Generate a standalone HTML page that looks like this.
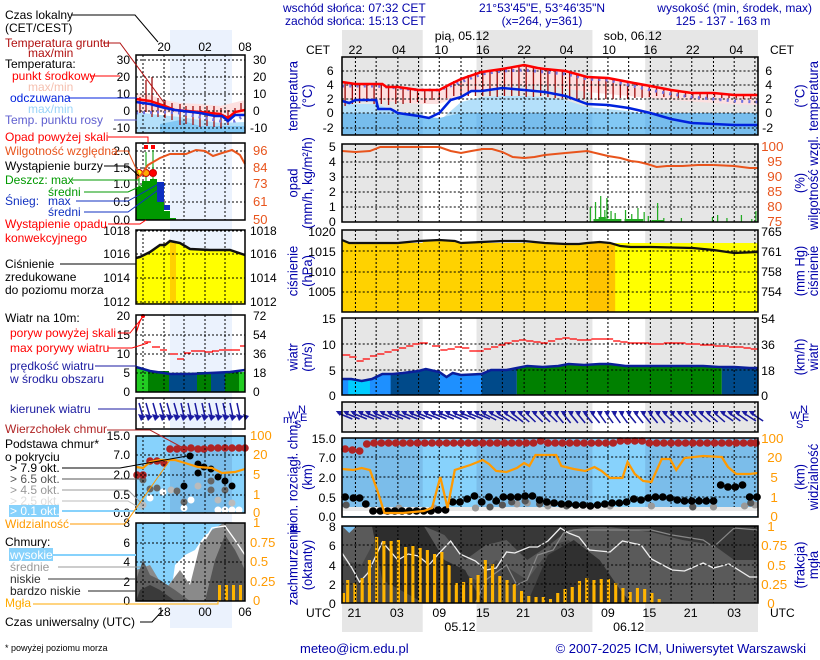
<!DOCTYPE html>
<html><head><meta charset="utf-8"><style>
html,body{margin:0;padding:0;background:#fff}
svg{display:block;font-family:"Liberation Sans",sans-serif;font-size:12px}
</style></head><body>
<svg width="820" height="660" viewBox="0 0 820 660" xmlns="http://www.w3.org/2000/svg">
<rect x="170" y="30" width="62" height="598" fill="#ebf2fd"/>

<g fill="#0000aa">
<text x="283" y="12">wschód słońca: 07:32 CET</text>
<text x="285" y="25">zachód słońca: 15:13 CET</text>
<text x="542" y="12" text-anchor="middle">21°53'45"E, 53°46'35"N</text>
<text x="542" y="25" text-anchor="middle">(x=264,  y=361)</text>
<text x="812" y="12" text-anchor="end">wysokość (min, środek, max)</text>
<text x="723" y="25" text-anchor="middle">125 - 137 - 163 m</text>
</g>
<text x="306" y="54">CET</text><text x="770" y="54">CET</text>
<text x="306" y="617">UTC</text><text x="770" y="617">UTC</text>
<g fill="#0000aa" font-size="11"><text x="283" y="423">m.</text><text x="288" y="419">W</text><text x="298" y="413">N</text><text x="294" y="428">S</text><text x="300" y="421">E</text>
<text x="790" y="419">W</text><text x="800" y="413">N</text><text x="796" y="428">S</text><text x="802" y="421">E</text></g>

<g transform="matrix(1.0348,0,0,1,-10.87,0)">
<rect x="341" y="30" width="78" height="27" fill="#e6e6e6"/>
<rect x="471" y="30" width="112" height="27" fill="#e6e6e6"/>
<rect x="634" y="30" width="109" height="27" fill="#e6e6e6"/>
<rect x="341" y="604" width="78" height="28" fill="#e6e6e6"/>
<rect x="471" y="604" width="112" height="28" fill="#e6e6e6"/>
<rect x="634" y="604" width="109" height="28" fill="#e6e6e6"/>
<g fill="#000">
<text x="457" y="40" text-anchor="middle">pią, 05.12</text>
<text x="622" y="40" text-anchor="middle">sob, 06.12</text>
<g text-anchor="middle">
<text x="354" y="54">22</text><text x="396" y="54">04</text><text x="437" y="54">10</text><text x="477" y="54">16</text><text x="517" y="54">22</text><text x="558" y="54">04</text><text x="599" y="54">10</text><text x="639" y="54">16</text><text x="680" y="54">22</text><text x="722" y="54">04</text>
<text x="353" y="617">21</text><text x="394" y="617">03</text><text x="435" y="617">09</text><text x="477" y="617">15</text><text x="516" y="617">21</text><text x="559" y="617">03</text><text x="598" y="617">09</text><text x="638" y="617">15</text><text x="678" y="617">21</text><text x="720" y="617">03</text>
<text x="455" y="631">05.12</text><text x="618" y="631">06.12</text>
</g>
</g>

<!-- ============ MAIN TEMP PANEL ============ -->
<rect x="341" y="57" width="402" height="78" fill="#e6e6e6"/>
<rect x="419" y="57" width="52" height="78" fill="#fff"/>
<rect x="583" y="57" width="51" height="78" fill="#fff"/>
<polygon fill="#fde0e0" points="341,82 354,84 374,84 395,87 415,90 435,90 456,79 476,72 496,69 517,65 537,69 557,71 578,77 598,78 618,82 639,86 659,90 679,93 700,93 720,95 743,95 743,105 700,103 659,100 618,96 578,92 537,85 496,86 456,95 435,104 415,104 374,100 341,98"/>
<polygon fill="#b4e0fa" points="341,104 354,104 374,104 395,112 415,119 435,121 456,102 476,97 496,96 517,96 537,97 557,100 578,107 598,109 618,111 639,115 659,121 679,125 700,127 720,127 743,127 743,135 341,135"/>
<polygon fill="#82c8f4" points="341,113 395,115 435,118 456,113 743,113 743,135 341,135"/>
<rect x="341" y="113" width="78" height="22" fill="#6fb6e8" opacity="0.6"/>
<rect x="471" y="113" width="112" height="22" fill="#6fb6e8" opacity="0.6"/>
<rect x="634" y="113" width="109" height="22" fill="#6fb6e8" opacity="0.6"/>
<g stroke="#a01010" stroke-width="1.3">
<path d="M344,83V106M351,83V104M358,84V103M365,84V102M372,84V104M379,85V104M386,86V105M393,87V104M400,88V104M407,89V103M414,90V102M421,90V103M428,90V100M435,90V100M442,86V98M449,81V96M456,79V98M463,75V96M470,72V96M477,71V96M484,70V96M491,69V97M498,68V96M505,67V96M512,66V96M519,65V97M526,67V97M533,68V96M540,69V97M547,70V98M554,71V98M561,73V99M568,75V99M575,77V99M582,78V99M589,78V100M596,78V99M603,79V99M610,80V98M617,82V99M624,83V98M631,84V98M638,86V97M645,87V96M652,88V97M659,90V97M666,91V98M673,92V97M680,93V98M687,93V98M694,93V98M701,93V97M708,94V98M715,94V98M722,95V98M729,95V99M736,95V99"/>
</g>
<g stroke="#000" stroke-width="1" stroke-dasharray="2,2" fill="none">
<path d="M354,57V135M374,57V135M395,57V135M415,57V135M435,57V135M456,57V135M476,57V135M496,57V135M517,57V135M537,57V135M557,57V135M578,57V135M598,57V135M618,57V135M639,57V135M659,57V135M679,57V135M700,57V135M720,57V135M740,57V135"/>
<path d="M341,71H743M341,85H743M341,99H743M341,113H743M341,128H743"/>
</g>
<polyline fill="none" stroke="#7070e0" stroke-width="3" stroke-dasharray="2,5" points="341,86 354,86 374,86 395,88 415,90 435,90 456,82 476,74 496,71 517,70 537,72 557,74 578,79 598,80 618,85 639,90 659,94 679,97 700,99 720,101 743,102"/>
<polyline fill="none" stroke="#ff0000" stroke-width="2.5" points="341,82 354,84 374,84 380,84 384,87 395,87 415,90 435,90 446,84 456,79 476,72 496,69 517,65 530,68 537,69 557,71 578,77 598,78 618,82 639,86 659,90 679,93 700,93 720,95 743,95"/>
<polyline fill="none" stroke="#0022dd" stroke-width="2.5" points="341,101 348,103 354,100 374,100 376,109 388,109 395,113 415,116 425,118 435,113 446,100 456,97 466,91 476,91 496,88 517,90 537,92 557,96 578,104 598,105 618,108 639,113 659,119 679,123 700,124 720,125 743,125"/>
<rect x="341" y="57" width="402" height="78" fill="none" stroke="#000" stroke-width="1.5"/>
<g text-anchor="end"><text x="333" y="75">6</text><text x="333" y="89">4</text><text x="333" y="103">2</text><text x="333" y="117">0</text><text x="333" y="132">-2</text></g>
<g><text x="750" y="75">6</text><text x="750" y="89">4</text><text x="750" y="103">2</text><text x="750" y="117">0</text><text x="747" y="132">-2</text></g>
<g fill="#0000aa" font-size="13">
<text transform="translate(298,96) rotate(-90)" text-anchor="middle">temperatura</text>
<text transform="translate(312,96) rotate(-90)" text-anchor="middle">(°C)</text>
<text transform="translate(788,96) rotate(-90)" text-anchor="middle">(°C)</text>
<text transform="translate(801,96) rotate(-90)" text-anchor="middle">temperatura</text>
</g>

<!-- ============ MAIN PRECIP ============ -->
<rect x="341" y="144" width="402" height="78" fill="#e6e6e6"/>
<rect x="419" y="144" width="52" height="78" fill="#fff"/>
<rect x="583" y="144" width="51" height="78" fill="#fff"/>
<g stroke="#000" stroke-width="1" stroke-dasharray="2,2" fill="none">
<path d="M354,144V222M374,144V222M395,144V222M415,144V222M435,144V222M456,144V222M476,144V222M496,144V222M517,144V222M537,144V222M557,144V222M578,144V222M598,144V222M618,144V222M639,144V222M659,144V222M679,144V222M700,144V222M720,144V222M740,144V222"/>
<path d="M341,162H743M341,177H743M341,192H743M341,207H743"/>
</g>
<g stroke="#22aa22" stroke-width="1.2">
<path d="M581,222V207M586,222V202M591,222V196M595,222V210M597,222V198M601,222V211M605,222V213M615,222V210M621,222V214M627,222V208M633,222V212M637,222V216M646,222V203M652,222V218M669,222V218M699,222V217M704,222V215M713,222V218M727,222V215M737,222V219M741,222V211"/>
</g>
<polygon fill="#22aa22" points="584,222 584,219 589,219 589,217 596,217 596,219 600,219 611,219 611,222"/>
<polygon fill="#22aa22" points="614,222 614,219 632,219 632,222"/>
<polygon fill="#22aa22" points="640,222 640,220 652,220 652,222"/>
<polyline fill="none" stroke="#e8541c" stroke-width="2" points="341,151 354,152 368,151 378,147 394,147 415,147 435,147 446,151 456,153 466,151 477,149 486,149 496,152 506,157 517,158 527,157 537,155 557,153 578,151 590,154 598,156 610,158 620,161 628,162 636,164 645,167 655,166 670,166 685,165 700,165 720,166 735,168 743,168"/>
<rect x="341" y="144" width="402" height="78" fill="none" stroke="#000" stroke-width="1.5"/>
<g text-anchor="end"><text x="335" y="151">5</text><text x="335" y="166">4</text><text x="335" y="181">3</text><text x="335" y="196">2</text><text x="335" y="211">1</text><text x="335" y="226">0</text></g>
<g fill="#e8541c" font-size="13"><text x="746" y="151">100</text><text x="752" y="166">95</text><text x="752" y="181">90</text><text x="752" y="196">85</text><text x="752" y="211">80</text><text x="752" y="226">75</text></g>
<g fill="#0000aa" font-size="13">
<text transform="translate(298,183) rotate(-90)" text-anchor="middle">opad</text>
<text transform="translate(312,183) rotate(-90)" text-anchor="middle">(mm/h, kg/m²/h)</text>
<text transform="translate(788,183) rotate(-90)" text-anchor="middle">(%)</text>
<text transform="translate(801,183) rotate(-90)" text-anchor="middle">wilgotność wzgl.</text>
</g>

<!-- ============ MAIN PRESSURE ============ -->
<rect x="341" y="230" width="402" height="82" fill="#ffff00"/>
<rect x="341" y="243" width="238" height="69" fill="#ffd200"/>
<rect x="579" y="243" width="26" height="69" fill="#ffc400"/>
<rect x="341" y="230" width="402" height="13" fill="#e6e6e6"/>
<rect x="419" y="230" width="52" height="13" fill="#fff"/>
<rect x="583" y="230" width="51" height="13" fill="#fff"/>
<polygon fill="#ffd200" points="341,240 348,243 419,243 419,241 435,240 456,243 471,243 471,244 341,244"/>
<polygon fill="#ffff00" points="605,243 634,243 634,248 700,248 743,253 743,260 605,260"/>
<g stroke="#000" stroke-width="1" stroke-dasharray="2,2" fill="none">
<path d="M354,230V312M374,230V312M395,230V312M415,230V312M435,230V312M456,230V312M476,230V312M496,230V312M517,230V312M537,230V312M557,230V312M578,230V312M598,230V312M618,230V312M639,230V312M659,230V312M679,230V312M700,230V312M720,230V312M740,230V312"/>
<path d="M341,251H743M341,272H743M341,292H743"/>
</g>
<polyline fill="none" stroke="#111" stroke-width="2.2" points="341,240 348,243 374,243 395,243 415,241 435,240 450,241 456,243 476,242 496,241 517,241 537,243 557,244 570,244 578,243 590,242 600,243 610,246 620,247 640,247 680,248 700,250 720,253 743,252"/>
<rect x="341" y="230" width="402" height="82" fill="none" stroke="#000" stroke-width="1.5"/>
<g text-anchor="end"><text x="335" y="236">1020</text><text x="335" y="256">1015</text><text x="335" y="276">1010</text><text x="335" y="296">1005</text></g>
<g><text x="746" y="236">765</text><text x="746" y="256">761</text><text x="746" y="276">758</text><text x="746" y="296">754</text></g>
<g fill="#0000aa" font-size="13">
<text transform="translate(298,271) rotate(-90)" text-anchor="middle">ciśnienie</text>
<text transform="translate(312,271) rotate(-90)" text-anchor="middle">(hPa)</text>
<text transform="translate(788,271) rotate(-90)" text-anchor="middle">(mm Hg)</text>
<text transform="translate(801,271) rotate(-90)" text-anchor="middle">ciśnienie</text>
</g>

<!-- ============ MAIN WIND ============ -->
<rect x="341" y="318" width="402" height="77" fill="#e6e6e6"/>
<rect x="419" y="318" width="52" height="77" fill="#fff"/>
<rect x="583" y="318" width="51" height="77" fill="#fff"/>
<polygon fill="#1e90ff" points="341,379 350,379 360,381 370,379 380,374 390,374 395,373 395,395 341,395"/>
<polygon fill="#00ccff" points="347,380 360,381 368,380 368,395 347,395"/>
<polygon fill="#004a8a" points="388,373 395,373 415,371 422,369 435,372 435,395 388,395"/>
<polygon fill="#1e90ff" points="435,372 442,377 448,373 456,375 476,374 478,395 435,395"/>
<polygon fill="#004a8a" points="476,374 485,370 500,370 510,368 510,395 476,395"/>
<polygon fill="#008000" points="510,368 520,366 535,367 550,366 560,364 575,365 590,364 600,364 615,366 630,366 660,366 690,366 705,367 708,367 708,395 510,395"/>
<polygon fill="#004a8a" points="708,367 720,367 735,368 743,368 743,395 708,395"/>
<g stroke="#000" stroke-width="1" stroke-dasharray="2,2" fill="none">
<path d="M354,318V395M374,318V395M395,318V395M415,318V395M435,318V395M456,318V395M476,318V395M496,318V395M517,318V395M537,318V395M557,318V395M578,318V395M598,318V395M618,318V395M639,318V395M659,318V395M679,318V395M700,318V395M720,318V395M740,318V395"/>
<path d="M341,344H743M341,370H743"/>
</g>
<polyline fill="none" stroke="#0a1e9a" stroke-width="2.5" points="341,379 350,379 360,381 370,379 380,374 390,374 400,373 415,371 422,369 435,372 442,377 448,373 456,375 476,374 485,370 500,370 510,368 520,366 535,367 550,366 560,364 575,365 590,364 600,364 615,366 630,366 660,366 690,366 705,367 720,367 735,368 743,368"/>
<g stroke="#ff0000" stroke-width="1.2">
<path d="M341,355h8M348,357h7M355,361h7M361,359h7M368,356h7M375,354h7M382,352h7M389,350h7M396,348h7M403,346h7M409,344h7M416,343h8M428,346h8M436,350h7M443,349h7M450,347h7M457,348h7M464,351h7M471,351h7M478,349h7M485,347h7M492,345h7M498,343h7M505,341h7M512,340h7M519,341h7M526,342h7M533,343h7M540,341h7M547,339h7M554,338h7M561,339h7M568,340h7M575,340h7M582,339h7M589,339h7M596,339h7M603,341h7M610,342h7M617,343h7M624,343h7M631,343h7M638,344h7M645,344h7M652,343h7M659,343h7M666,343h7M673,344h7M680,344h7M687,345h7M694,345h7M701,346h7M708,346h7M715,347h7M722,347h7M729,348h7M736,349h7"/>
</g>
<rect x="341" y="318" width="402" height="77" fill="none" stroke="#000" stroke-width="1.5"/>
<g text-anchor="end"><text x="335" y="323">15</text><text x="335" y="349">10</text><text x="335" y="375">5</text><text x="335" y="400">0</text></g>
<g><text x="746" y="323">54</text><text x="746" y="349">36</text><text x="746" y="375">18</text><text x="746" y="400">0</text></g>
<g fill="#0000aa" font-size="13">
<text transform="translate(298,357) rotate(-90)" text-anchor="middle">wiatr</text>
<text transform="translate(312,357) rotate(-90)" text-anchor="middle">(m/s)</text>
<text transform="translate(788,357) rotate(-90)" text-anchor="middle">(km/h)</text>
<text transform="translate(801,357) rotate(-90)" text-anchor="middle">wiatr</text>
</g>

<!-- ============ MAIN DIRECTION ============ -->
<rect x="341" y="402" width="402" height="30" fill="#e6e6e6"/>
<rect x="419" y="402" width="52" height="30" fill="#fff"/>
<rect x="583" y="402" width="51" height="30" fill="#fff"/>
<g stroke="#000" stroke-width="1" stroke-dasharray="2,2" fill="none">
<path d="M354,402V432M374,402V432M395,402V432M415,402V432M435,402V432M456,402V432M476,402V432M496,402V432M517,402V432M537,402V432M557,402V432M578,402V432M598,402V432M618,402V432M639,402V432M659,402V432M679,402V432M700,402V432M720,402V432M740,402V432"/>
</g>
<g stroke="#1a1aa0" stroke-width="1.5" fill="none">
<path d="M337,413l14,6M344,413l14,6M351,413l14,6M358,413l14,6M365,413l14,6M372,413l14,6M379,413l14,6M386,413l14,6M393,413l14,6M400,413l14,6M407,413l14,6M414,413l14,6M421,413l14,6M428,413l14,6M435,413l14,6M442,413l14,6M449,413l14,6M456,413l14,6M463,413l14,6M470,413l14,6M477,413l13,7M484,413l13,7M491,413l12,8M498,413l12,8M505,413l11,9M512,413l10,9M519,413l9,9M526,413l9,9M533,413l9,9M540,413l9,9M547,413l8,10M554,413l8,10M561,413l8,10M568,413l8,10M575,413l8,10M582,413l8,10M589,413l7,10M596,413l7,10M603,413l7,10M610,413l7,10M617,413l8,10M624,413l8,10M631,413l8,10M638,413l8,10M645,413l8,10M652,413l9,9M659,413l9,9M666,413l9,9M673,413l9,9M680,413l9,9M687,413l10,9M694,413l10,9M701,413l10,9M708,413l11,8M715,413l11,8M722,413l11,8M729,413l12,8M736,413l12,8"/>
</g>
<g fill="#1a1aa0">
<path d="M335,411l6,0l-2,5z M342,411l6,0l-2,5z M349,411l6,0l-2,5z M356,411l6,0l-2,5z M363,411l6,0l-2,5z M370,411l6,0l-2,5z M377,411l6,0l-2,5z M384,411l6,0l-2,5z M391,411l6,0l-2,5z M398,411l6,0l-2,5z M405,411l6,0l-2,5z M412,411l6,0l-2,5z M419,411l6,0l-2,5z M426,411l6,0l-2,5z M433,411l6,0l-2,5z M440,411l6,0l-2,5z M447,411l6,0l-2,5z M454,411l6,0l-2,5z M461,411l6,0l-2,5z M468,411l6,0l-2,5z M475,411l6,0l-2,5z M482,411l6,0l-2,5z M489,411l6,0l-2,5z M496,411l6,0l-2,5z M503,411l6,0l-2,5z M510,411l6,0l-2,5z M517,411l6,0l-2,5z M524,411l6,0l-2,5z M531,411l6,0l-2,5z M538,411l6,0l-2,5z M545,411l6,0l-2,5z M552,411l6,0l-2,5z M559,411l6,0l-2,5z M566,411l6,0l-2,5z M573,411l6,0l-2,5z M580,411l6,0l-2,5z M587,411l6,0l-2,5z M594,411l6,0l-2,5z M601,411l6,0l-2,5z M608,411l6,0l-2,5z M615,411l6,0l-2,5z M622,411l6,0l-2,5z M629,411l6,0l-2,5z M636,411l6,0l-2,5z M643,411l6,0l-2,5z M650,411l6,0l-2,5z M657,411l6,0l-2,5z M664,411l6,0l-2,5z M671,411l6,0l-2,5z M678,411l6,0l-2,5z M685,411l6,0l-2,5z M692,411l6,0l-2,5z M699,411l6,0l-2,5z M706,411l6,0l-2,5z M713,411l6,0l-2,5z M720,411l6,0l-2,5z M727,411l6,0l-2,5z M734,411l6,0l-2,5z"/>
</g>
<rect x="341" y="402" width="402" height="30" fill="none" stroke="#000" stroke-width="1.5"/>

<!-- ============ MAIN CLOUD BASE ============ -->
<rect x="341" y="438" width="402" height="79" fill="#7bbdea"/>
<rect x="419" y="438" width="52" height="79" fill="#87d2fc"/>
<rect x="583" y="438" width="51" height="79" fill="#87d2fc"/>
<g stroke="#000" stroke-width="1" stroke-dasharray="2,2" fill="none">
<path d="M354,438V517M374,438V517M395,438V517M415,438V517M435,438V517M456,438V517M476,438V517M496,438V517M517,438V517M537,438V517M557,438V517M578,438V517M598,438V517M618,438V517M639,438V517M659,438V517M679,438V517M700,438V517M720,438V517M740,438V517"/>
<path d="M341,457H743M341,477H743M341,497H743"/>
</g>
<g fill="#e8e8e8"><path d="M341,507h402v6h-402z"/></g>
<g fill="#fff"><path d="M341,511h402v5h-402z"/></g>
<g fill="#999">
<circle cx="396" cy="508" r="3.5"/><circle cx="430" cy="508" r="3.5"/><circle cx="470" cy="508" r="3.5"/><circle cx="510" cy="504" r="3.5"/><circle cx="520" cy="503" r="3.5"/><circle cx="540" cy="506" r="3.5"/><circle cx="600" cy="506" r="3.5"/><circle cx="640" cy="506" r="3.5"/><circle cx="700" cy="507" r="3.5"/><circle cx="730" cy="506" r="3.5"/><circle cx="740" cy="505" r="3.5"/>
</g>
<g fill="#555">
<circle cx="345" cy="505" r="3.5"/><circle cx="484" cy="507" r="3.5"/><circle cx="496" cy="505" r="3.5"/><circle cx="505" cy="502" r="3.5"/><circle cx="518" cy="501" r="3.5"/><circle cx="532" cy="504" r="3.5"/><circle cx="558" cy="506" r="3.5"/><circle cx="680" cy="507" r="3.5"/><circle cx="736" cy="503" r="3.5"/>
</g>
<g fill="#000">
<circle cx="344" cy="497" r="3.8"/><circle cx="352" cy="498" r="3.8"/><circle cx="358" cy="498" r="3.8"/><circle cx="364" cy="504" r="3.8"/><circle cx="371" cy="511" r="3.8"/><circle cx="378" cy="511" r="3.8"/><circle cx="385" cy="511" r="3.8"/><circle cx="392" cy="511" r="3.8"/><circle cx="399" cy="511" r="3.8"/><circle cx="406" cy="511" r="3.8"/><circle cx="413" cy="511" r="3.8"/><circle cx="420" cy="511" r="3.8"/><circle cx="427" cy="511" r="3.8"/><circle cx="434" cy="510" r="3.8"/><circle cx="441" cy="510" r="3.8"/><circle cx="448" cy="502" r="3.8"/><circle cx="455" cy="502" r="3.8"/><circle cx="462" cy="499" r="3.8"/><circle cx="469" cy="496" r="3.8"/><circle cx="476" cy="502" r="3.8"/><circle cx="483" cy="497" r="3.8"/><circle cx="490" cy="501" r="3.8"/><circle cx="497" cy="497" r="3.8"/><circle cx="504" cy="497" r="3.8"/><circle cx="511" cy="497" r="3.8"/><circle cx="518" cy="496" r="3.8"/><circle cx="525" cy="496" r="3.8"/><circle cx="532" cy="500" r="3.8"/><circle cx="539" cy="502" r="3.8"/><circle cx="546" cy="503" r="3.8"/><circle cx="553" cy="504" r="3.8"/><circle cx="560" cy="504" r="3.8"/><circle cx="567" cy="505" r="3.8"/><circle cx="574" cy="505" r="3.8"/><circle cx="581" cy="506" r="3.8"/><circle cx="588" cy="505" r="3.8"/><circle cx="595" cy="504" r="3.8"/><circle cx="602" cy="503" r="3.8"/><circle cx="609" cy="503" r="3.8"/><circle cx="616" cy="502" r="3.8"/><circle cx="623" cy="499" r="3.8"/><circle cx="630" cy="500" r="3.8"/><circle cx="637" cy="498" r="3.8"/><circle cx="644" cy="497" r="3.8"/><circle cx="651" cy="497" r="3.8"/><circle cx="658" cy="498" r="3.8"/><circle cx="665" cy="500" r="3.8"/><circle cx="672" cy="501" r="3.8"/><circle cx="679" cy="501" r="3.8"/><circle cx="686" cy="501" r="3.8"/><circle cx="693" cy="501" r="3.8"/><circle cx="700" cy="501" r="3.8"/><circle cx="707" cy="485" r="3.8"/><circle cx="714" cy="487" r="3.8"/><circle cx="721" cy="487" r="3.8"/><circle cx="728" cy="485" r="3.8"/><circle cx="735" cy="497" r="3.8"/><circle cx="742" cy="497" r="3.8"/>
</g>
<polyline fill="none" stroke="#ff9a00" stroke-width="2.2" points="341,469 352,470 360,468 368,470 375,490 382,513 400,513 420,511 428,508 436,477 443,508 450,470 465,465 477,460 483,464 490,471 500,472 510,468 517,463 522,466 528,455 548,455 553,466 565,469 576,471 585,467 592,471 600,478 612,478 617,462 624,474 632,481 640,482 650,459 658,459 664,470 672,458 690,456 708,457 714,467 722,474 735,474 743,473"/>
<g fill="#b02424">
<circle cx="344" cy="449" r="3.8"/><circle cx="351" cy="450" r="3.8"/><circle cx="358" cy="451" r="3.8"/><circle cx="365" cy="444" r="3.8"/>
<circle cx="372" cy="443" r="3.8"/><circle cx="379" cy="443" r="3.8"/><circle cx="386" cy="443" r="3.8"/><circle cx="393" cy="443" r="3.8"/><circle cx="400" cy="443" r="3.8"/><circle cx="407" cy="443" r="3.8"/><circle cx="414" cy="443" r="3.8"/><circle cx="421" cy="443" r="3.8"/><circle cx="428" cy="443" r="3.8"/><circle cx="435" cy="443" r="3.8"/><circle cx="442" cy="443" r="3.8"/><circle cx="449" cy="443" r="3.8"/><circle cx="456" cy="443" r="3.8"/><circle cx="463" cy="443" r="3.8"/><circle cx="470" cy="443" r="3.8"/><circle cx="477" cy="443" r="3.8"/><circle cx="484" cy="443" r="3.8"/><circle cx="491" cy="443" r="3.8"/><circle cx="498" cy="443" r="3.8"/><circle cx="505" cy="443" r="3.8"/><circle cx="512" cy="443" r="3.8"/><circle cx="519" cy="443" r="3.8"/><circle cx="526" cy="443" r="3.8"/><circle cx="533" cy="441" r="3.8"/><circle cx="540" cy="443" r="3.8"/><circle cx="547" cy="443" r="3.8"/><circle cx="554" cy="443" r="3.8"/><circle cx="561" cy="443" r="3.8"/><circle cx="568" cy="443" r="3.8"/><circle cx="575" cy="443" r="3.8"/><circle cx="582" cy="443" r="3.8"/><circle cx="589" cy="443" r="3.8"/><circle cx="596" cy="443" r="3.8"/><circle cx="603" cy="443" r="3.8"/><circle cx="610" cy="441" r="3.8"/><circle cx="617" cy="441" r="3.8"/><circle cx="624" cy="441" r="3.8"/><circle cx="631" cy="441" r="3.8"/><circle cx="638" cy="443" r="3.8"/><circle cx="645" cy="443" r="3.8"/><circle cx="652" cy="443" r="3.8"/><circle cx="659" cy="443" r="3.8"/><circle cx="666" cy="443" r="3.8"/><circle cx="673" cy="443" r="3.8"/><circle cx="680" cy="443" r="3.8"/><circle cx="687" cy="443" r="3.8"/><circle cx="694" cy="443" r="3.8"/><circle cx="701" cy="443" r="3.8"/><circle cx="708" cy="443" r="3.8"/><circle cx="715" cy="443" r="3.8"/><circle cx="722" cy="443" r="3.8"/><circle cx="729" cy="443" r="3.8"/><circle cx="736" cy="443" r="3.8"/><circle cx="741" cy="443" r="3.8"/>
</g>
<rect x="341" y="438" width="402" height="79" fill="none" stroke="#000" stroke-width="1.5"/>
<g text-anchor="end"><text x="335" y="443">15.0</text><text x="335" y="462">7.0</text><text x="335" y="482">2.0</text><text x="335" y="502">0.5</text><text x="335" y="521">0.0</text></g>
<g fill="#ff9a00" font-size="13"><text x="746" y="443">100</text><text x="752" y="462">20</text><text x="755" y="482">5</text><text x="755" y="502">1</text><text x="755" y="521">0</text></g>
<g fill="#0000aa" font-size="13">
<text transform="translate(298,477) rotate(-90)" text-anchor="middle">pion. rozciągł. chm.</text>
<text transform="translate(312,477) rotate(-90)" text-anchor="middle">(km)</text>
<text transform="translate(788,477) rotate(-90)" text-anchor="middle">(km)</text>
<text transform="translate(801,477) rotate(-90)" text-anchor="middle">widzialność</text>
</g>

<!-- ============ MAIN CLOUD COVER ============ -->
<rect x="341" y="526" width="402" height="77" fill="#383838"/>
<polygon fill="#5a5a5a" points="341,526 420,526 440,535 460,560 480,545 500,540 520,560 540,546 560,530 590,526 640,532 670,540 700,545 720,560 743,560 743,603 341,603"/>
<polygon fill="#474747" points="341,560 360,565 380,526 420,526 440,560 470,580 490,560 520,580 545,545 560,540 580,560 600,590 620,603 341,603"/>
<polygon fill="#2d2d2d" points="370,526 420,526 440,560 460,570 470,590 480,603 420,603 380,580"/>
<polygon fill="#303030" points="520,603 540,555 565,540 590,560 610,590 620,603"/>
<polygon fill="#7fc4f4" points="341,526 355,526 348,533"/>
<polyline fill="none" stroke="#888" stroke-width="1.2" points="470,603 480,580 500,565 510,585 520,580 530,555 545,550 555,533 565,530 600,530 640,530 660,535 690,540 700,547 720,528 743,530"/>
<polyline fill="none" stroke="#eee" stroke-width="1.3" points="341,553 350,567 358,582 366,573 380,542 395,560 405,554 415,556 425,565 435,553 446,541 455,554 470,561 480,570 490,568 500,552 508,553 522,547 530,547 540,541 552,528 560,533 570,537 580,550 600,552 612,541 630,545 640,559 660,570 672,571 690,563 700,568 715,564 735,577 743,577"/>
<g fill="#ffb400">
<rect x="341" y="593" width="3" height="10"/><rect x="345" y="580" width="3" height="23"/><rect x="352" y="583" width="3" height="20"/><rect x="359" y="578" width="3" height="25"/><rect x="366" y="560" width="3" height="43"/><rect x="373" y="537" width="3" height="66"/><rect x="380" y="541" width="3" height="62"/><rect x="387" y="541" width="3" height="62"/><rect x="394" y="540" width="3" height="63"/><rect x="401" y="547" width="3" height="56"/><rect x="408" y="546" width="3" height="57"/><rect x="415" y="548" width="3" height="55"/><rect x="422" y="550" width="3" height="53"/><rect x="429" y="554" width="3" height="49"/><rect x="436" y="552" width="3" height="51"/><rect x="443" y="565" width="3" height="38"/><rect x="450" y="583" width="3" height="20"/><rect x="457" y="582" width="3" height="21"/><rect x="464" y="578" width="3" height="25"/><rect x="471" y="575" width="3" height="28"/><rect x="478" y="560" width="3" height="43"/><rect x="485" y="564" width="3" height="39"/><rect x="492" y="576" width="3" height="27"/><rect x="499" y="580" width="3" height="23"/><rect x="506" y="584" width="3" height="19"/><rect x="513" y="591" width="3" height="12"/><rect x="520" y="596" width="3" height="7"/><rect x="527" y="597" width="3" height="6"/><rect x="534" y="597" width="3" height="6"/><rect x="541" y="599" width="3" height="4"/><rect x="548" y="593" width="3" height="10"/><rect x="555" y="589" width="3" height="14"/><rect x="562" y="587" width="3" height="16"/><rect x="569" y="581" width="3" height="22"/><rect x="576" y="578" width="3" height="25"/><rect x="583" y="580" width="3" height="23"/><rect x="590" y="579" width="3" height="24"/><rect x="597" y="579" width="3" height="24"/><rect x="604" y="583" width="3" height="20"/><rect x="611" y="588" width="3" height="15"/><rect x="618" y="592" width="3" height="11"/><rect x="625" y="588" width="3" height="15"/><rect x="632" y="589" width="3" height="14"/><rect x="639" y="593" width="3" height="10"/><rect x="646" y="599" width="3" height="4"/>
</g>
<g stroke="#000" stroke-width="1" stroke-dasharray="2,2" fill="none">
<path d="M354,526V603M374,526V603M395,526V603M415,526V603M435,526V603M456,526V603M476,526V603M496,526V603M517,526V603M537,526V603M557,526V603M578,526V603M598,526V603M618,526V603M639,526V603M659,526V603M679,526V603M700,526V603M720,526V603M740,526V603"/>
<path d="M341,545H743M341,565H743M341,584H743"/>
</g>
<rect x="341" y="526" width="402" height="77" fill="none" stroke="#000" stroke-width="1.5"/>
<g text-anchor="end"><text x="335" y="531">8</text><text x="335" y="550">6</text><text x="335" y="570">4</text><text x="335" y="589">2</text><text x="335" y="608">0</text></g>
<g fill="#ff9a00" font-size="13"><text x="752" y="531">1</text><text x="746" y="550">0.75</text><text x="752" y="570">0.5</text><text x="746" y="589">0.25</text><text x="752" y="608">0</text></g>
<g fill="#0000aa" font-size="13">
<text transform="translate(298,565) rotate(-90)" text-anchor="middle">zachmurzenie</text>
<text transform="translate(312,565) rotate(-90)" text-anchor="middle">(oktanty)</text>
<text transform="translate(788,565) rotate(-90)" text-anchor="middle">(frakcja)</text>
<text transform="translate(801,565) rotate(-90)" text-anchor="middle">mgła</text>
</g>
</g>

<!-- ===================== LEFT LEGEND PANELS ===================== -->
<rect x="136" y="55" width="109" height="78" fill="#fff"/>
<rect x="170" y="55" width="62" height="78" fill="#ebf2fd"/>
<polygon fill="#fde0e0" points="136,93 150,95 165,100 180,103 200,104 220,106 245,100 245,115 136,112"/>
<polygon fill="#b4e0fa" points="136,112 160,115 180,117 200,120 220,123 245,122 245,133 136,133"/>
<polygon fill="#82c8f4" points="160,124 180,120 200,126 245,126 245,133 160,133"/>
<g stroke="#a01010" stroke-width="1.3"><path d="M140,97V113M146,80V112M152,77V117M158,98V117M165,100V118M172,103V120M180,104V125M186,106V124M193,106V125M200,106V127M207,106V126M214,106V127M221,108V128M228,110V125M235,108V116M241,103V112"/></g>
<g stroke="#000" stroke-width="1" stroke-dasharray="2,2" fill="none">
<path d="M143,55V133M164,55V133M184,55V133M205,55V133M225,55V133M136,60H245M136,77H245M136,94H245M136,111H245M136,128H245"/>
</g>
<polyline fill="none" stroke="#7070e0" stroke-width="3" stroke-dasharray="2,5" points="136,113 160,112 180,113 200,117 220,121 235,121 245,115"/>
<polyline fill="none" stroke="#ff0000" stroke-width="2.5" points="136,99 150,101 165,106 175,110 200,112 220,114 228,118 235,112 245,110"/>
<polyline fill="none" stroke="#0022dd" stroke-width="2.5" points="136,102 150,104 165,108 175,110 200,113 215,116 222,116 228,121 235,115 245,115"/>
<rect x="136" y="55" width="109" height="78" fill="none" stroke="#000" stroke-width="1.5"/>
<rect x="136" y="143" width="109" height="77" fill="#fff"/>
<rect x="170" y="143" width="62" height="77" fill="#ebf2fd"/>
<g stroke="#000" stroke-width="1" stroke-dasharray="2,2" fill="none">
<path d="M143,143V220M164,143V220M184,143V220M205,143V220M225,143V220M136,151H245M136,168H245M136,184H245M136,202H245"/>
</g>
<polygon fill="#009900" points="136,220 136,187 142,187 142,181 150,181 150,179 157,179 157,199 164,199 164,211 170,211 170,218 176,218 176,220"/>
<rect x="157" y="182" width="7" height="20" fill="#1030c0"/>
<rect x="164" y="205" width="6" height="5" fill="#1030c0"/>
<g stroke="#22aa22" stroke-width="1.2"><path d="M139,187V178M146,181V152M153,179V150"/></g>
<g fill="#ff0000"><rect x="144" y="145" width="4" height="4"/><rect x="151" y="145" width="4" height="4"/></g>
<circle cx="139" cy="173" r="3.5" fill="#ffff00" stroke="#c00"/>
<circle cx="146" cy="173" r="3.5" fill="#ffaa00" stroke="#c00"/>
<circle cx="153" cy="173" r="3.5" fill="#ff0000" stroke="#c00"/>
<polyline fill="none" stroke="#e8541c" stroke-width="2" points="136,179 141,175 148,165 160,158 170,154 186,154 196,150 205,151 213,156 222,153 232,150 240,155 245,164"/>
<rect x="136" y="143" width="109" height="77" fill="none" stroke="#000" stroke-width="1.5"/>
<rect x="136" y="230" width="109" height="74" fill="#ffff00"/>
<rect x="170" y="230" width="6" height="74" fill="#ffd000"/>
<polygon fill="#fff" points="136,230 245,230 245,255 230,250 210,250 190,249 180,243 170,241 160,245 150,252 140,258 136,258"/>
<polygon fill="#ebf2fd" points="170,230 232,230 232,249 210,250 190,249 180,243 170,241"/>
<g stroke="#000" stroke-width="1" stroke-dasharray="2,2" fill="none">
<path d="M143,230V304M164,230V304M184,230V304M205,230V304M225,230V304M136,231H245M136,254H245M136,278H245M136,302H245"/>
</g>
<polyline fill="none" stroke="#111" stroke-width="2.5" points="136,258 140,257 150,252 160,245 165,245 170,241 180,243 190,249 210,250 230,250 245,255"/>
<rect x="136" y="230" width="109" height="74" fill="none" stroke="#000" stroke-width="1.5"/>
<rect x="136" y="315" width="109" height="77" fill="#fff"/>
<rect x="170" y="315" width="62" height="77" fill="#ebf2fd"/>
<polygon fill="#22cc22" points="136,367 150,371 160,373 245,372 245,392 136,392"/>
<rect x="148" y="371" width="21" height="21" fill="#008000"/>
<rect x="169" y="373" width="28" height="19" fill="#004a8a"/>
<rect x="197" y="372" width="14" height="20" fill="#008000"/>
<rect x="211" y="372" width="14" height="20" fill="#004a8a"/>
<rect x="225" y="372" width="14" height="20" fill="#008000"/>
<g stroke="#000" stroke-width="1" stroke-dasharray="2,2" fill="none">
<path d="M143,315V392M164,315V392M184,315V392M205,315V392M225,315V392M136,335H245M136,354H245M136,373H245"/>
</g>
<polyline fill="none" stroke="#0a1e9a" stroke-width="2.5" points="136,367 150,371 170,374 190,374 210,373 230,372 245,370"/>
<g stroke="#ff0000" stroke-width="1.2"><path d="M136,333l4,-12M140,321l3,-5M144,342h7M152,347h8M160,350h7M170,354h8M177,359h7M184,353h7M191,351h7M198,351h7M205,352h8M212,351h7M219,350h7M226,350h7M233,350h7M240,346h5"/></g>
<circle cx="143" cy="316" r="2" fill="#ff0000"/>
<rect x="136" y="315" width="109" height="77" fill="none" stroke="#000" stroke-width="1.5"/>
<rect x="136" y="398" width="109" height="31" fill="#fff"/>
<rect x="170" y="398" width="62" height="31" fill="#ebf2fd"/>
<g stroke="#000" stroke-width="1" stroke-dasharray="2,2" fill="none"><path d="M143,398V429M164,398V429M184,398V429M205,398V429M225,398V429"/></g>
<g stroke="#1a1aa0" stroke-width="1.5"><path d="M139,403l4,14M146,403l4,14M153,403l4,14M160,403l4,14M167,403l4,14M174,403l4,14M181,403l3,14M188,403l3,14M195,403l3,14M202,403l3,14M209,403l3,14M216,403l3,14M223,403l3,14M230,403l3,14M237,403l3,14"/></g>
<g fill="#1a1aa0"><path d="M138,414l8,2l-5,5z M145,414l8,2l-5,5z M152,414l8,2l-5,5z M159,414l8,2l-5,5z M166,414l8,2l-5,5z M173,414l8,2l-5,5z M180,414l8,2l-5,5z M187,414l8,2l-5,5z M194,414l8,2l-5,5z M201,414l8,2l-5,5z M208,414l8,2l-5,5z M215,414l8,2l-5,5z M222,414l8,2l-5,5z M229,414l8,2l-5,5z M236,414l8,2l-5,5z M243,414l6,2l-4,5z"/></g>
<rect x="136" y="398" width="109" height="31" fill="none" stroke="#000" stroke-width="1.5"/>
<rect x="136" y="436" width="109" height="77" fill="#87d2fc"/>
<rect x="170" y="436" width="62" height="77" fill="#7bbdea"/>
<g fill="#fff"><circle cx="150" cy="498" r="3.5"/><circle cx="163" cy="492" r="3.5"/><circle cx="184" cy="508" r="3.5"/><circle cx="191" cy="500" r="3.5"/><circle cx="218" cy="510" r="3.5"/><circle cx="225" cy="510" r="3.5"/><circle cx="232" cy="510" r="3.5"/><circle cx="239" cy="510" r="3.5"/></g>
<g fill="#bbb"><circle cx="143" cy="505" r="3.5"/><circle cx="171" cy="490" r="3.5"/><circle cx="198" cy="486" r="3.5"/><circle cx="218" cy="500" r="3.5"/><circle cx="232" cy="503" r="3.5"/></g>
<g fill="#666"><circle cx="143" cy="480" r="3.5"/><circle cx="150" cy="489" r="3.5"/><circle cx="157" cy="488" r="3.5"/><circle cx="177" cy="491" r="3.5"/><circle cx="184" cy="502" r="3.5"/><circle cx="211" cy="490" r="3.5"/><circle cx="225" cy="490" r="3.5"/><circle cx="211" cy="481" r="3.5"/></g>
<g fill="#000"><circle cx="184" cy="486" r="3.5"/><circle cx="190" cy="456" r="3.5"/><circle cx="198" cy="464" r="3.5"/><circle cx="204" cy="467" r="3.5"/><circle cx="211" cy="469" r="3.5"/><circle cx="218" cy="477" r="3.5"/><circle cx="225" cy="481" r="3.5"/><circle cx="232" cy="486" r="3.5"/><circle cx="198" cy="473" r="3.5"/></g>
<g fill="#b02424"><circle cx="137" cy="475" r="3.8"/><circle cx="143" cy="475" r="3.8"/><circle cx="150" cy="461" r="3.8"/><circle cx="157" cy="461" r="3.8"/><circle cx="164" cy="463" r="3.8"/><circle cx="170" cy="449" r="3.8"/><circle cx="177" cy="449" r="3.8"/><circle cx="184" cy="449" r="3.8"/><circle cx="191" cy="448" r="3.8"/><circle cx="198" cy="449" r="3.8"/><circle cx="204" cy="449" r="3.8"/><circle cx="211" cy="448" r="3.8"/><circle cx="218" cy="448" r="3.8"/><circle cx="225" cy="448" r="3.8"/><circle cx="232" cy="448" r="3.8"/><circle cx="239" cy="448" r="3.8"/><circle cx="245" cy="448" r="3.8"/></g>
<g stroke="#000" stroke-width="1" stroke-dasharray="2,2" fill="none">
<path d="M143,436V513M164,436V513M184,436V513M205,436V513M225,436V513M136,455H245M136,475H245M136,495H245"/>
</g>
<polyline fill="none" stroke="#ff9a00" stroke-width="2.2" points="136,467 143,468 150,462 160,460 175,460 185,463 198,467 212,468 222,473 235,472 245,469"/>
<rect x="136" y="436" width="109" height="77" fill="none" stroke="#000" stroke-width="1.5"/>
<rect x="136" y="523" width="109" height="78" fill="#87d2fc"/>
<polygon fill="#fff" points="170,601 175,565 185,555 195,550 205,535 215,530 220,525 230,523 245,523 245,601"/>
<polygon fill="#8a8a8a" points="136,601 136,570 150,565 165,590 180,570 190,585 200,545 212,530 225,522 245,523 245,601"/>
<polygon fill="#606060" points="136,601 136,580 143,560 150,575 160,580 175,590 190,601"/>
<polygon fill="#555" points="205,601 215,560 225,535 235,550 245,570 245,601"/>
<polygon fill="#3a3a3a" points="136,601 140,590 150,585 160,590 175,601"/>
<polyline fill="none" stroke="#fff" stroke-width="1.3" points="205,540 212,528 225,526 235,540 245,555"/>
<g fill="#ffb400"><rect x="218" y="585" width="3" height="16"/><rect x="225" y="585" width="3" height="16"/><rect x="232" y="585" width="3" height="16"/><rect x="239" y="585" width="3" height="16"/></g>
<g stroke="#000" stroke-width="1" stroke-dasharray="2,2" fill="none">
<path d="M143,523V601M164,523V601M184,523V601M205,523V601M225,523V601M136,543H245M136,562H245M136,582H245"/>
</g>
<rect x="136" y="523" width="109" height="78" fill="none" stroke="#000" stroke-width="1.5"/>

<g text-anchor="end">
<text x="130" y="64">30</text><text x="130" y="81">20</text><text x="130" y="98">10</text><text x="130" y="115">0</text><text x="130" y="132">-10</text>
<text x="130" y="155">2.0</text><text x="130" y="172">1.5</text><text x="130" y="188">1.0</text><text x="130" y="206">0.5</text><text x="130" y="224">0.0</text>
<text x="130" y="235">1018</text><text x="130" y="258">1016</text><text x="130" y="282">1014</text><text x="130" y="306">1012</text>
<text x="130" y="320">20</text><text x="130" y="339">15</text><text x="130" y="358">10</text><text x="130" y="377">5</text><text x="130" y="396">0</text>
<text x="130" y="440">15.0</text><text x="130" y="459">7.0</text><text x="130" y="479">2.0</text><text x="130" y="499">0.5</text><text x="130" y="517">0.0</text>
<text x="130" y="527">8</text><text x="130" y="547">6</text><text x="130" y="566">4</text><text x="130" y="586">2</text><text x="130" y="605">0</text>
</g>
<g>
<text x="253" y="64">30</text><text x="253" y="81">20</text><text x="253" y="98">10</text><text x="253" y="115">0</text><text x="250" y="132">-10</text>
<text x="250" y="235">1018</text><text x="250" y="258">1016</text><text x="250" y="282">1014</text><text x="250" y="306">1012</text>
<text x="253" y="320">72</text><text x="253" y="339">54</text><text x="253" y="358">36</text><text x="253" y="377">18</text><text x="253" y="396">0</text>
</g>
<g fill="#e8541c" font-size="13"><text x="253" y="155">96</text><text x="253" y="172">84</text><text x="253" y="188">73</text><text x="253" y="206">61</text><text x="253" y="224">50</text></g>
<g fill="#ff9a00" font-size="13"><text x="250" y="440">100</text><text x="253" y="459">20</text><text x="253" y="479">5</text><text x="253" y="499">1</text><text x="253" y="517">0</text>
<text x="253" y="527">1</text><text x="250" y="547">0.75</text><text x="250" y="566">0.5</text><text x="250" y="586">0.25</text><text x="253" y="605">0</text></g>
<g text-anchor="middle"><text x="164" y="51">20</text><text x="205" y="51">02</text><text x="245" y="51">08</text>
<text x="164" y="616">18</text><text x="205" y="616">00</text><text x="245" y="616">06</text></g>

<g font-size="12">
<text x="5" y="19">Czas lokalny</text><text x="5" y="32">(CET/CEST)</text>
<text x="5" y="47" fill="#b01010">Temperatura gruntu</text><text x="28" y="57" fill="#b01010">max/min</text>
<text x="5" y="68">Temperatura:</text>
<text x="12" y="80" fill="#ff0000">punkt środkowy</text>
<text x="28" y="91" fill="#f5c0b0">max/min</text>
<text x="10" y="102" fill="#0022dd">odczuwana</text>
<text x="28" y="113" fill="#9ad4f8">max/min</text>
<text x="5" y="124" fill="#6060d0">Temp. punktu rosy</text>
<text x="5" y="141" fill="#ff0000">Opad powyżej skali</text>
<text x="5" y="155" fill="#e8541c">Wilgotność względna</text>
<text x="5" y="170">Wystąpienie burzy</text>
<text x="5" y="184" fill="#009900">Deszcz: max</text>
<text x="48" y="196" fill="#009900">średni</text>
<text x="5" y="205" fill="#1030c0">Śnieg:</text><text x="48" y="205" fill="#1030c0">max</text>
<text x="48" y="216" fill="#1030c0">średni</text>
<text x="5" y="228" fill="#ff0000">Wystąpienie opadu</text>
<text x="5" y="242" fill="#ff0000">konwekcyjnego</text>
<text x="5" y="268">Ciśnienie</text>
<text x="5" y="281">zredukowane</text>
<text x="5" y="294">do poziomu morza</text>
<text x="5" y="322">Wiatr na 10m:</text>
<text x="10" y="337" fill="#ff0000">poryw powyżej skali</text>
<text x="10" y="352" fill="#ff0000">max porywy wiatru</text>
<text x="10" y="370" fill="#1a1aa0">prędkość wiatru</text>
<text x="10" y="383" fill="#1a1aa0">w środku obszaru</text>
<text x="10" y="413" fill="#1a1aa0">kierunek wiatru</text>
<text x="5" y="433" fill="#b02424">Wierzchołek chmur</text>
<text x="5" y="448">Podstawa chmur*</text>
<text x="5" y="461">o pokryciu</text>
<text x="10" y="472">&gt; 7.9 okt.</text>
<text x="10" y="483" fill="#555">&gt; 6.5 okt.</text>
<text x="10" y="494" fill="#999">&gt; 4.5 okt.</text>
<rect x="9" y="505" width="50" height="12" fill="#87d2fc"/>
<text x="10" y="505" fill="#ddd">&gt; 2.5 okt.</text>
<text x="10" y="515" fill="#fff">&gt; 0.1 okt.</text>
<text x="5" y="528" fill="#ff9a00">Widzialność</text>
<text x="5" y="546">Chmury:</text>
<rect x="9" y="548" width="44" height="13" fill="#87d2fc"/>
<text x="10" y="559" fill="#fff">wysokie</text>
<text x="10" y="571" fill="#999">średnie</text>
<text x="10" y="583" fill="#333">niskie</text>
<text x="10" y="595" fill="#222">bardzo niskie</text>
<text x="5" y="607" fill="#ffaa00">Mgła</text>
<text x="5" y="626">Czas uniwersalny (UTC)</text>
<text x="5" y="651" font-size="9">* powyżej poziomu morza</text>
</g>
<g fill="none" stroke-width="1">
<path d="M72,15H135L158,42" stroke="#000"/>
<path d="M103,43H120L165,104" stroke="#b01010"/>
<path d="M90,76H120" stroke="#ff0000"/>
<path d="M68,98H137" stroke="#0022dd"/>
<path d="M114,120H137" stroke="#6060d0"/>
<path d="M108,137H148V143" stroke="#ff0000"/>
<path d="M118,151H128L139,175" stroke="#e8541c"/>
<path d="M104,166H128L139,176" stroke="#000"/>
<path d="M72,180H139" stroke="#009900"/>
<path d="M84,192H128L143,185" stroke="#009900"/>
<path d="M76,201H128L160,183" stroke="#1030c0"/>
<path d="M84,212H128L165,185" stroke="#1030c0"/>
<path d="M108,224H140L146,220" stroke="#ff0000"/>
<path d="M60,264H136" stroke="#000"/>
<path d="M118,333H130L142,318" stroke="#ff0000"/>
<path d="M108,348H132L148,343" stroke="#ff0000"/>
<path d="M95,366H137" stroke="#1a1aa0"/>
<path d="M98,409H137" stroke="#1a1aa0"/>
<path d="M107,430H150L187,450" stroke="#b02424"/>
<path d="M62,468H120L187,456" stroke="#000"/>
<path d="M62,479H143" stroke="#555"/>
<path d="M62,490H128L143,505" stroke="#999"/>
<path d="M62,501H128L143,510" stroke="#bbb"/>
<path d="M62,511H137" stroke="#87d2fc" stroke-width="2"/>
<path d="M70,524H125L170,460" stroke="#ff9a00"/>
<path d="M53,555H136" stroke="#87d2fc" stroke-width="2"/>
<path d="M58,567H140" stroke="#999"/>
<path d="M48,579H136" stroke="#333"/>
<path d="M88,591H136" stroke="#222"/>
<path d="M33,604H218V601" stroke="#ffaa00"/>
<path d="M140,622H152L163,610" stroke="#000"/>
</g>

<g fill="#0000aa" font-size="13">
<text x="300" y="653">meteo@icm.edu.pl</text>
<text x="806" y="653" text-anchor="end">© 2007-2025 ICM, Uniwersytet Warszawski</text>
</g>
</svg>
</body></html>
